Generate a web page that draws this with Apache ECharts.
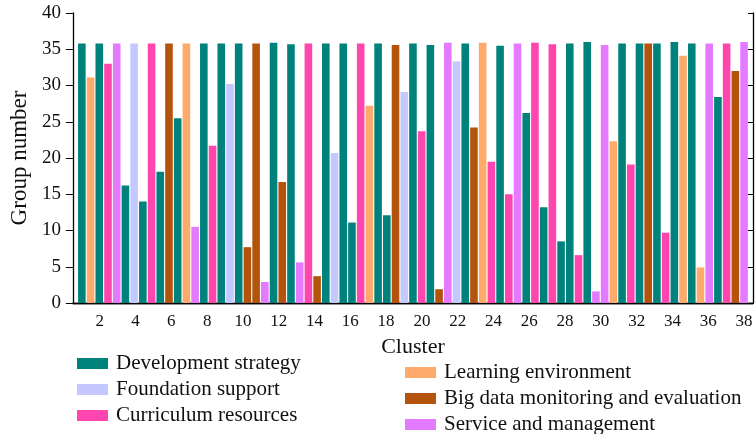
<!DOCTYPE html>
<html>
<head>
<meta charset="utf-8">
<script src="https://cdn.jsdelivr.net/npm/echarts@6/dist/echarts.min.js"></script>
<style>
  html, body { margin: 0; padding: 0; background: #fff; }
  #main { width: 756px; height: 434px; }
</style>
</head>
<body>
<div id="main"></div>
<script>
// cluster tick labels 1..38
const clusters = Array.from({ length: 38 }, (_, i) => String(i + 1));

const seriesNames = [
  'Development strategy',
  'Foundation support',
  'Curriculum resources',
  'Learning environment',
  'Big data monitoring and evaluation',
  'Service and management'
];
const seriesColors = ['#00827c', '#c4c8ff', '#ff46ae', '#fdaa6a', '#b4540c', '#e47aff'];

// bars left to right: which series each bar belongs to, and its height
const barSeries = [
  0, 3, 0, 2, 5, 0, 1, 0, 2, 0, 4, 0, 3, 5, 0, 2, 0, 1, 0, 4,
  4, 5, 0, 4, 0, 5, 2, 4, 0, 1, 0, 0, 2, 3, 0, 0, 4, 1, 0, 2,
  0, 4, 5, 1, 0, 4, 3, 2, 0, 2, 5, 0, 2, 0, 2, 0, 0, 2, 0, 5,
  5, 3, 0, 2, 0, 4, 0, 2, 0, 3, 0, 3, 5, 0, 2, 4, 5
];
const barValues = [
  35.8, 31.1, 35.8, 33.0, 35.8, 16.2, 35.8, 14.0, 35.8, 18.1,
  35.8, 25.5, 35.8, 10.5, 35.8, 21.7, 35.8, 30.2, 35.8, 7.7,
  35.8, 2.9, 35.9, 16.7, 35.7, 5.6, 35.8, 3.7, 35.8, 20.7,
  35.8, 11.1, 35.8, 27.2, 35.8, 12.1, 35.6, 29.1, 35.8, 23.7,
  35.6, 1.9, 35.9, 33.3, 35.8, 24.2, 35.9, 19.5, 35.5, 15.0,
  35.8, 26.2, 35.9, 13.2, 35.7, 8.5, 35.8, 6.6, 36.0, 1.6,
  35.6, 22.3, 35.8, 19.1, 35.8, 35.8, 35.8, 9.7, 36.0, 34.1,
  35.8, 4.9, 35.8, 28.4, 35.8, 32.0, 36.0
];
// bars are spread evenly from the first cluster to the last one
const barStart = 1;
const barEnd = 38;

const font = "'Liberation Serif', 'Times New Roman', serif";
const chart = echarts.init(document.getElementById('main'));

const step = (barEnd - barStart) / (barValues.length - 1);
const series = seriesNames.map((name, s) => {
  const data = [];
  barValues.forEach((v, i) => {
    if (barSeries[i] === s) data.push([barStart + i * step, v]);
  });
  return {
    name: name,
    type: 'bar',
    xAxisIndex: 2,
    yAxisIndex: 0,
    barWidth: 7.6,
    barGap: '-100%',
    itemStyle: { color: seriesColors[s] },
    data: data
  };
});

const axisLine = { show: true, lineStyle: { color: '#000', width: 1.3 } };
const legendText = { fontFamily: font, fontSize: 21, color: '#111', lineHeight: 20, padding: [0, 0, 0, 3] };

const option = {
  backgroundColor: '#fff',
  animation: false,
  color: seriesColors,
  grid: { left: 63, right: 3, top: 13, bottom: 131, containLabel: false },
  legend: [
    {
      data: seriesNames.slice(0, 3),
      orient: 'vertical',
      left: 72, top: 348, width: 320, height: 86,
      icon: 'rect', itemWidth: 31, itemHeight: 11, itemGap: 5,
      textStyle: legendText
    },
    {
      data: seriesNames.slice(3),
      orient: 'vertical',
      left: 400, top: 357, width: 356, height: 77,
      icon: 'rect', itemWidth: 31, itemHeight: 11, itemGap: 5,
      textStyle: legendText
    }
  ],
  xAxis: [
    {
      type: 'category',
      position: 'bottom',
      data: clusters,
      boundaryGap: true,
      axisLine: axisLine,
      axisTick: { alignWithLabel: true, interval: 0, length: 5, lineStyle: { color: '#000' } },
      axisLabel: {
        interval: (i) => i % 2 === 1,
        fontFamily: font, fontSize: 17, color: '#111', margin: 10
      },
      name: 'Cluster',
      nameLocation: 'middle',
      nameGap: 33,
      nameTextStyle: { fontFamily: font, fontSize: 22, color: '#111' }
    },
    {
      type: 'category',
      position: 'top',
      data: clusters,
      boundaryGap: true,
      axisLine: axisLine,
      axisTick: { alignWithLabel: true, interval: (i) => i % 2 === 1, length: 7, lineStyle: { color: '#000' } },
      axisLabel: { show: false }
    },
    {
      type: 'value',
      min: 0.5,
      max: 38.5,
      show: false
    }
  ],
  yAxis: [
    {
      type: 'value',
      position: 'left',
      min: 0, max: 40, interval: 5,
      axisLine: axisLine,
      axisTick: { show: true, length: 7, lineStyle: { color: '#000' } },
      axisLabel: { fontFamily: font, fontSize: 19, color: '#111', margin: 12 },
      splitLine: { show: false },
      name: 'Group number',
      nameLocation: 'middle',
      nameGap: 26,
      nameTextStyle: { fontFamily: font, fontSize: 23, color: '#111' }
    },
    {
      type: 'value',
      position: 'right',
      min: 0, max: 40, interval: 5,
      axisLine: axisLine,
      axisTick: { show: true, inside: true, length: 5, lineStyle: { color: '#000' } },
      axisLabel: { show: false },
      splitLine: { show: false }
    }
  ],
  series: series
};

chart.setOption(option);
</script>
</body>
</html>
